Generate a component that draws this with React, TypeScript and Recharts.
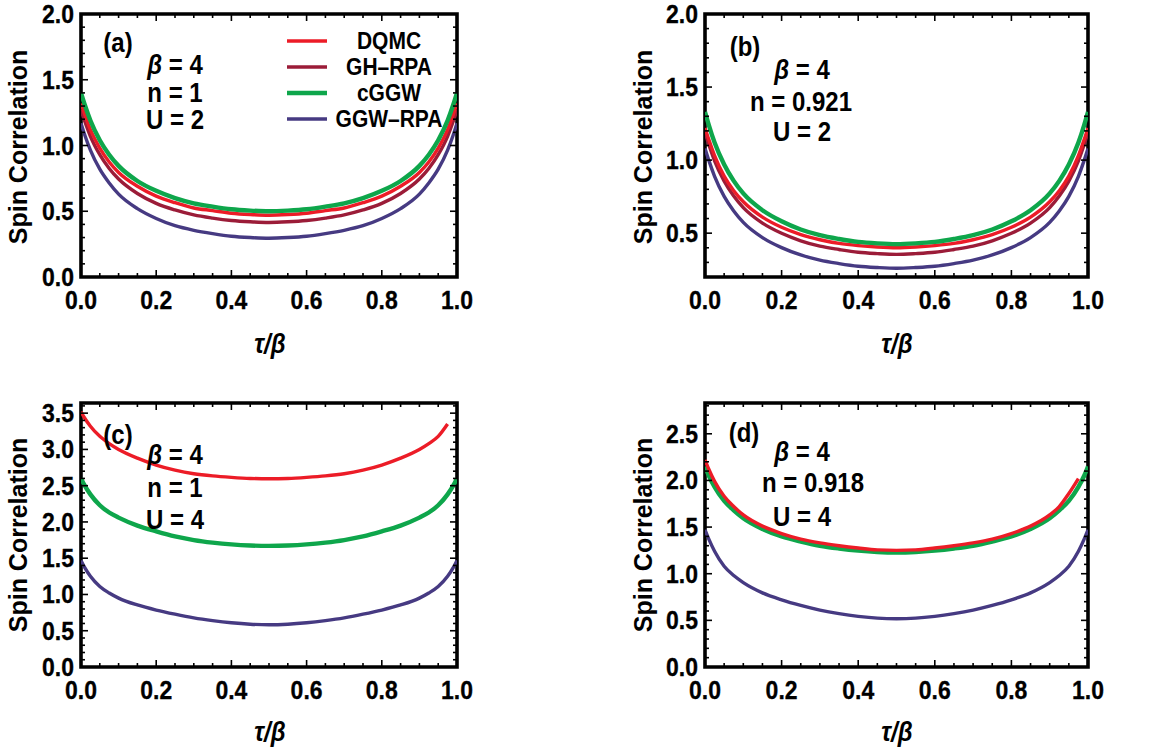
import React from 'react';
import { LineChart, Line, XAxis, YAxis, ReferenceArea } from 'recharts';

// ---------- data ----------
const tau = [0, 0.01, 0.025, 0.05, 0.075, 0.1, 0.15, 0.2, 0.25, 0.3, 0.35, 0.4, 0.45, 0.5, 0.55, 0.6, 0.65, 0.7, 0.75, 0.8, 0.85, 0.9, 0.925, 0.95, 0.975, 0.99, 1.0];

// panel (a): beta=4, n=1, U=2
const aDQMC = [1.32, 1.235, 1.12, 0.98, 0.875, 0.795, 0.69, 0.615, 0.565, 0.525, 0.505, 0.485, 0.475, 0.47, 0.475, 0.485, 0.505, 0.525, 0.565, 0.615, 0.69, 0.795, 0.875, 0.98, 1.12, 1.235, 1.32];
const aGH = [1.27, 1.185, 1.07, 0.93, 0.825, 0.745, 0.635, 0.56, 0.51, 0.472, 0.448, 0.43, 0.42, 0.415, 0.42, 0.43, 0.448, 0.472, 0.51, 0.56, 0.635, 0.745, 0.825, 0.93, 1.07, 1.185, 1.27];
const aCGGW = [1.4, 1.31, 1.19, 1.04, 0.93, 0.845, 0.73, 0.655, 0.6, 0.56, 0.535, 0.515, 0.505, 0.5, 0.505, 0.515, 0.535, 0.56, 0.6, 0.655, 0.73, 0.845, 0.93, 1.04, 1.19, 1.31, 1.4];
const aGGW = [1.17, 1.08, 0.965, 0.82, 0.715, 0.63, 0.52, 0.445, 0.39, 0.355, 0.33, 0.31, 0.3, 0.295, 0.3, 0.31, 0.33, 0.355, 0.39, 0.445, 0.52, 0.63, 0.715, 0.82, 0.965, 1.08, 1.17];

// panel (b): beta=4, n=0.921, U=2
const bDQMC = [1.22, 1.14, 1.03, 0.89, 0.79, 0.715, 0.61, 0.54, 0.49, 0.455, 0.43, 0.415, 0.405, 0.4, 0.405, 0.415, 0.43, 0.455, 0.49, 0.54, 0.61, 0.715, 0.79, 0.89, 1.03, 1.14, 1.22];
const bGH = [1.19, 1.107, 0.995, 0.856, 0.754, 0.675, 0.569, 0.499, 0.448, 0.411, 0.388, 0.369, 0.36, 0.355, 0.36, 0.369, 0.388, 0.411, 0.448, 0.499, 0.569, 0.675, 0.754, 0.856, 0.995, 1.107, 1.19];
const bCGGW = [1.33, 1.24, 1.12, 0.97, 0.858, 0.772, 0.657, 0.581, 0.525, 0.486, 0.46, 0.44, 0.43, 0.425, 0.43, 0.44, 0.46, 0.486, 0.525, 0.581, 0.657, 0.772, 0.858, 0.97, 1.12, 1.24, 1.33];
const bGGW = [1.08, 0.998, 0.889, 0.752, 0.652, 0.574, 0.47, 0.401, 0.351, 0.315, 0.292, 0.274, 0.265, 0.26, 0.265, 0.274, 0.292, 0.315, 0.351, 0.401, 0.47, 0.574, 0.652, 0.752, 0.889, 0.998, 1.08];

// panel (c): beta=4, n=1, U=4
const cDQMC = [3.52, 3.43, 3.32, 3.18, 3.08, 3.0, 2.88, 2.785, 2.715, 2.665, 2.635, 2.615, 2.6, 2.595, 2.6, 2.615, 2.635, 2.665, 2.715, 2.785, 2.88, 3.0, 3.08, 3.18, 3.35, null, null];
const cCGGW = [2.6, 2.5, 2.38, 2.23, 2.13, 2.06, 1.95, 1.87, 1.8, 1.75, 1.715, 1.69, 1.675, 1.67, 1.675, 1.69, 1.715, 1.75, 1.8, 1.87, 1.95, 2.06, 2.13, 2.23, 2.38, 2.5, 2.6];
const cGGW = [1.47, 1.37, 1.25, 1.11, 1.02, 0.95, 0.855, 0.785, 0.728, 0.678, 0.64, 0.61, 0.59, 0.582, 0.59, 0.61, 0.64, 0.678, 0.728, 0.785, 0.855, 0.95, 1.02, 1.11, 1.25, 1.37, 1.47];

// panel (d): beta=4, n=0.918, U=4
const dDQMC = [2.22, 2.12, 1.99, 1.83, 1.72, 1.63, 1.51, 1.43, 1.37, 1.33, 1.3, 1.275, 1.255, 1.25, 1.255, 1.275, 1.3, 1.33, 1.37, 1.43, 1.51, 1.63, 1.72, 1.86, 2.02, null, null];
const dCGGW = [2.15, 2.05, 1.93, 1.78, 1.68, 1.595, 1.48, 1.4, 1.345, 1.3, 1.27, 1.247, 1.232, 1.226, 1.232, 1.247, 1.27, 1.3, 1.345, 1.4, 1.48, 1.595, 1.68, 1.78, 1.93, 2.05, 2.15];
const dGGW = [1.47, 1.37, 1.24, 1.08, 0.98, 0.905, 0.795, 0.72, 0.66, 0.61, 0.572, 0.543, 0.524, 0.518, 0.524, 0.543, 0.572, 0.61, 0.66, 0.72, 0.795, 0.905, 0.98, 1.08, 1.24, 1.37, 1.47];

// ticks
const xTicks = [0, 0.05, 0.1, 0.15, 0.2, 0.25, 0.3, 0.35, 0.4, 0.45, 0.5, 0.55, 0.6, 0.65, 0.7, 0.75, 0.8, 0.85, 0.9, 0.95, 1.0];
const xMajor = [0, 0.2, 0.4, 0.6, 0.8, 1.0];
const xLabels = ['0.0', '0.2', '0.4', '0.6', '0.8', '1.0'];

const yTicksA = [0, 0.1, 0.2, 0.3, 0.4, 0.5, 0.6, 0.7, 0.8, 0.9, 1.0, 1.1, 1.2, 1.3, 1.4, 1.5, 1.6, 1.7, 1.8, 1.9, 2.0];
const yMajorA = [0, 0.5, 1.0, 1.5, 2.0];
const yLabelsA = ['0.0', '0.5', '1.0', '1.5', '2.0'];

const yTicksB = [0.2, 0.3, 0.4, 0.5, 0.6, 0.7, 0.8, 0.9, 1.0, 1.1, 1.2, 1.3, 1.4, 1.5, 1.6, 1.7, 1.8, 1.9, 2.0];
const yMajorB = [0.5, 1.0, 1.5, 2.0];
const yLabelsB = ['0.5', '1.0', '1.5', '2.0'];

const yTicksC = [0, 0.1, 0.2, 0.3, 0.4, 0.5, 0.6, 0.7, 0.8, 0.9, 1.0, 1.1, 1.2, 1.3, 1.4, 1.5, 1.6, 1.7, 1.8, 1.9, 2.0, 2.1, 2.2, 2.3, 2.4, 2.5, 2.6, 2.7, 2.8, 2.9, 3.0, 3.1, 3.2, 3.3, 3.4, 3.5, 3.6];
const yMajorC = [0, 0.5, 1.0, 1.5, 2.0, 2.5, 3.0, 3.5];
const yLabelsC = ['0.0', '0.5', '1.0', '1.5', '2.0', '2.5', '3.0', '3.5'];

const yTicksD = [0, 0.1, 0.2, 0.3, 0.4, 0.5, 0.6, 0.7, 0.8, 0.9, 1.0, 1.1, 1.2, 1.3, 1.4, 1.5, 1.6, 1.7, 1.8, 1.9, 2.0, 2.1, 2.2, 2.3, 2.4, 2.5, 2.6, 2.7, 2.8];
const yMajorD = [0, 0.5, 1.0, 1.5, 2.0, 2.5];
const yLabelsD = ['0.0', '0.5', '1.0', '1.5', '2.0', '2.5'];

// ---------- styles ----------
const FONT = '"Liberation Sans", Arial, sans-serif';
const SERIES: Record<string, { name: string; color: string; width: number }> = {
  dqmc: { name: 'DQMC', color: '#ec1c27', width: 3.4 },
  gh: { name: 'GH\u2013RPA', color: '#9b1c38', width: 3.4 },
  cggw: { name: 'cGGW', color: '#0ea64b', width: 4.4 },
  ggw: { name: 'GGW\u2013RPA', color: '#463a82', width: 3.4 },
};
const LEGEND_ORDER = ['dqmc', 'gh', 'cggw', 'ggw'];
const VSCALE = 1.15;
const TICK_VSCALE = 1.12;
const TICK_SIZE = 23;

const findMajor = (v: number, majors: number[]) => majors.findIndex((m) => Math.abs(m - v) < 1e-6);

function makeTick(side: 'bottom' | 'top' | 'left' | 'right', majors: number[], labels: string[] | null) {
  return (props: any) => {
    const { x, y, payload } = props;
    const idx = findMajor(payload.value, majors);
    const len = idx >= 0 ? 7 : 4;
    let line;
    let label = null;
    if (side === 'bottom') {
      line = <line x1={x} x2={x} y1={y} y2={y - len} stroke="#000" strokeWidth={1.6} />;
      if (labels && idx >= 0)
        label = (
          <text transform={`translate(${x} ${y + 32}) scale(1 ${TICK_VSCALE})`} textAnchor="middle" fontSize={TICK_SIZE} fontWeight="bold" fontFamily={FONT} fill="#000" stroke="#000" strokeWidth={0.3}>
            {labels[idx]}
          </text>
        );
    } else if (side === 'top') {
      line = <line x1={x} x2={x} y1={y} y2={y + len} stroke="#000" strokeWidth={1.6} />;
    } else if (side === 'left') {
      line = <line x1={x} x2={x + len} y1={y} y2={y} stroke="#000" strokeWidth={1.6} />;
      if (labels && idx >= 0)
        label = (
          <text transform={`translate(${x - 7} ${y + 9}) scale(1 ${TICK_VSCALE})`} textAnchor="end" fontSize={TICK_SIZE} fontWeight="bold" fontFamily={FONT} fill="#000" stroke="#000" strokeWidth={0.3}>
            {labels[idx]}
          </text>
        );
    } else {
      line = <line x1={x} x2={x - len} y1={y} y2={y} stroke="#000" strokeWidth={1.6} />;
    }
    return (
      <g>
        {line}
        {label}
      </g>
    );
  };
}

type PanelProps = {
  left: number;
  top: number;
  width: number;
  height: number;
  margin: { top: number; right: number; bottom: number; left: number };
  data: any[];
  keys: string[];
  yDomain: [number, number];
  yTicks: number[];
  yMajor: number[];
  yLabels: string[];
};

// axes have size 1 so that Recharts renders them; margins are reduced by 1 accordingly
function Panel(p: PanelProps) {
  const m = { top: p.margin.top - 1, right: p.margin.right - 1, bottom: p.margin.bottom - 1, left: p.margin.left - 1 };
  return (
    <div style={{ position: 'absolute', left: p.left, top: p.top }}>
      <LineChart width={p.width} height={p.height} data={p.data} margin={m} style={{ overflow: 'visible' }}>
        <XAxis xAxisId="b" dataKey="t" type="number" domain={[0, 1]} ticks={xTicks} interval={0} height={1} tickSize={0} tickMargin={0} axisLine={false} tickLine={false} tick={makeTick('bottom', xMajor, xLabels)} allowDataOverflow />
        <XAxis xAxisId="t" orientation="top" dataKey="t" type="number" domain={[0, 1]} ticks={xTicks} interval={0} height={1} tickSize={0} tickMargin={0} axisLine={false} tickLine={false} tick={makeTick('top', xMajor, null)} allowDataOverflow />
        <YAxis yAxisId="l" type="number" domain={p.yDomain} ticks={p.yTicks} interval={0} width={1} tickSize={0} tickMargin={0} axisLine={false} tickLine={false} tick={makeTick('left', p.yMajor, p.yLabels)} allowDataOverflow />
        <YAxis yAxisId="r" orientation="right" type="number" domain={p.yDomain} ticks={p.yTicks} interval={0} width={1} tickSize={0} tickMargin={0} axisLine={false} tickLine={false} tick={makeTick('right', p.yMajor, null)} allowDataOverflow />
        {p.keys.map((k) => (
          <Line key={k} xAxisId="b" yAxisId="l" type="monotone" dataKey={k} stroke={SERIES[k].color} strokeWidth={SERIES[k].width} dot={false} isAnimationActive={false} connectNulls={false} />
        ))}
        <ReferenceArea xAxisId="b" yAxisId="l" x1={0} x2={1} y1={p.yDomain[0]} y2={p.yDomain[1]} fill="none" fillOpacity={0} stroke="#000" strokeWidth={3.6} ifOverflow="visible" />
      </LineChart>
    </div>
  );
}

const rows = (dq: (number | null)[], gh: (number | null)[] | null, cg: (number | null)[], gg: (number | null)[]) =>
  tau.map((t, i) => ({ t, dqmc: dq[i], gh: gh ? gh[i] : null, cggw: cg[i], ggw: gg[i] }));

const dataA = rows(aDQMC, aGH, aCGGW, aGGW);
const dataB = rows(bDQMC, bGH, bCGGW, bGGW);
const dataC = rows(cDQMC, null, cCGGW, cGGW);
const dataD = rows(dDQMC, null, dCGGW, dGGW);

function T({ x, y, size, children, anchor = 'middle', italic = false }: any) {
  return (
    <text transform={`translate(${x} ${y}) scale(1 ${VSCALE})`} textAnchor={anchor} fontSize={size} fontWeight="bold" fontStyle={italic ? 'italic' : 'normal'} fontFamily={FONT} fill="#000">
      {children}
    </text>
  );
}

function Params({ cx, ys, n, u, tag, tagX, tagY, nx }: any) {
  return (
    <g>
      <T x={tagX} y={tagY + 9} size={24}>{tag}</T>
      <T x={cx} y={ys[0] + 9} size={24}>
        <tspan fontStyle="italic">β</tspan> = 4
      </T>
      <T x={nx} y={ys[1] + 9} size={24}>n = {n}</T>
      <T x={cx} y={ys[2] + 9} size={24}>U = {u}</T>
    </g>
  );
}

function YLabel({ x, y }: any) {
  return (
    <text transform={`translate(${x + 9} ${y}) rotate(-90)`} textAnchor="middle" fontSize={25} fontWeight="bold" fontFamily={FONT} fill="#000">
      Spin Correlation
    </text>
  );
}

function XLabel({ x, y }: any) {
  return (
    <T x={x} y={y + 8} size={24} italic>
      τ/β
    </T>
  );
}

export default function App() {
  const legendY = [41, 67, 93, 119];
  return (
    <div style={{ position: 'absolute', left: 0, top: 0, width: 1174, height: 752, background: '#fff', overflow: 'hidden' }}>
      <Panel left={0} top={0} width={590} height={376} margin={{ top: 14, right: 133, bottom: 99, left: 81 }} data={dataA} keys={['ggw', 'gh', 'dqmc', 'cggw']} yDomain={[0, 2]} yTicks={yTicksA} yMajor={yMajorA} yLabels={yLabelsA} />
      <Panel left={587} top={0} width={587} height={376} margin={{ top: 14, right: 86, bottom: 99, left: 118 }} data={dataB} keys={['ggw', 'gh', 'dqmc', 'cggw']} yDomain={[0.2, 2]} yTicks={yTicksB} yMajor={yMajorB} yLabels={yLabelsB} />
      <Panel left={0} top={376} width={590} height={376} margin={{ top: 27, right: 133, bottom: 85, left: 81 }} data={dataC} keys={['ggw', 'cggw', 'dqmc']} yDomain={[0, 3.64]} yTicks={yTicksC} yMajor={yMajorC} yLabels={yLabelsC} />
      <Panel left={587} top={376} width={587} height={376} margin={{ top: 27, right: 86, bottom: 85, left: 118 }} data={dataD} keys={['ggw', 'cggw', 'dqmc']} yDomain={[0, 2.83]} yTicks={yTicksD} yMajor={yMajorD} yLabels={yLabelsD} />
      <svg width={1174} height={752} style={{ position: 'absolute', left: 0, top: 0, pointerEvents: 'none' }}>
        {LEGEND_ORDER.map((k, i) => (
          <g key={k}>
            <line x1={287} x2={327} y1={legendY[i]} y2={legendY[i]} stroke={SERIES[k].color} strokeWidth={SERIES[k].width} />
            <T x={389} y={legendY[i] + 8} size={21}>{SERIES[k].name}</T>
          </g>
        ))}
        <Params tag="(a)" tagX={118} tagY={43} cx={175} nx={175} ys={[65, 93, 120]} n="1" u="2" />
        <Params tag="(b)" tagX={745} tagY={47} cx={802} nx={801} ys={[70, 102, 132]} n="0.921" u="2" />
        <Params tag="(c)" tagX={118} tagY={435} cx={175} nx={175} ys={[455, 488, 520]} n="1" u="4" />
        <Params tag="(d)" tagX={744} tagY={433} cx={802} nx={813} ys={[452, 483, 517]} n="0.918" u="4" />
        <YLabel x={18} y={147} />
        <YLabel x={643} y={147} />
        <YLabel x={18} y={535} />
        <YLabel x={643} y={535} />
        <XLabel x={270} y={345} />
        <XLabel x={897} y={345} />
        <XLabel x={270} y={733} />
        <XLabel x={897} y={733} />
      </svg>
    </div>
  );
}
